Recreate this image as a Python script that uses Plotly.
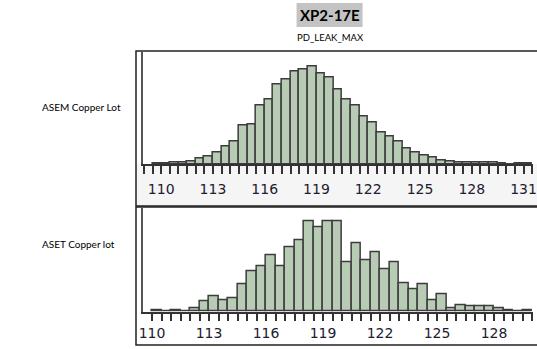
import plotly.graph_objects as go

# Histogram bins: lower edge of first bin and bin width (PD_LEAK_MAX units)
asem_bin_start = 109.5
aset_bin_start = 110.0
bin_width = 0.5

# Counts per bin
asem_counts = [2, 2, 5, 5, 8, 17, 24, 35, 54, 67, 115, 120, 175, 195, 239, 255,
               277, 284, 292, 272, 260, 225, 195, 175, 142, 125, 95, 82, 67, 47,
               35, 27, 19, 11, 7, 6, 6, 5, 4, 4, 2, 0, 1, 2]
aset_counts = [1, 0, 1, 0, 2, 6, 9, 7, 8, 16, 24, 27, 33, 27, 38, 42, 53, 50, 53, 53,
               29, 40, 30, 35, 25, 29, 17, 13, 16, 7, 10, 2, 4, 3, 3, 3, 2, 1, 0, 1]

row_labels = ["ASEM Copper Lot", "ASET Copper lot"]
title_text = "XP2-17E"
subtitle_text = "PD_LEAK_MAX"

W, H = 537, 349


def centers(start, counts):
    return [start + bin_width * (i + 0.5) for i in range(len(counts))]


def py(v):
    """pixel row -> paper y"""
    return 1 - v / H


def px(v):
    return v / W


BAR_FILL = "#b7cbb5"
BAR_EDGE = "#3c3c3c"
AXIS = "#333333"

fig = go.Figure()
fig.add_trace(go.Bar(x=centers(asem_bin_start, asem_counts), y=asem_counts,
                     width=bin_width, marker=dict(color=BAR_FILL,
                     line=dict(color=BAR_EDGE, width=1.5)),
                     xaxis="x", yaxis="y", hoverinfo="x+y"))
fig.add_trace(go.Bar(x=centers(aset_bin_start, aset_counts), y=aset_counts,
                     width=bin_width, marker=dict(color=BAR_FILL,
                     line=dict(color=BAR_EDGE, width=1.5)),
                     xaxis="x2", yaxis="y2", hoverinfo="x+y"))

tickfont = dict(family="DejaVu Sans", size=14, color="#1c2030")


def xaxis(domain_anchor, rng, standoff):
    return dict(domain=[px(141), 1], range=rng, anchor=domain_anchor,
                tick0=110, dtick=3, ticks="outside", ticklen=8, tickwidth=1.5,
                tickcolor=AXIS, showline=True, linecolor=AXIS, linewidth=1.5,
                showgrid=False, zeroline=False, tickfont=tickfont,
                ticklabelstandoff=standoff, ticklabeloverflow="allow",
                minor=dict(tick0=110, dtick=0.5, ticks="outside", ticklen=8,
                           tickwidth=1.5, tickcolor=AXIS, showgrid=False),
                fixedrange=True)


def yaxis(domain, top):
    return dict(domain=domain, range=[0, top], showticklabels=False,
                showgrid=False, zeroline=False, ticks="", showline=True,
                linecolor="#555555", linewidth=2, fixedrange=True)


shapes = [
    # grey band under the upper histogram axis
    dict(type="rect", xref="paper", yref="paper", x0=px(134), x1=1.01,
         y0=py(206), y1=py(164), fillcolor="#f5f5f5", line=dict(width=0),
         layer="below"),
    # panel frames
    dict(type="rect", xref="paper", yref="paper", x0=px(134), x1=1.02,
         y0=py(206), y1=py(51), line=dict(color="#222222", width=1.5)),
    dict(type="rect", xref="paper", yref="paper", x0=px(134), x1=1.02,
         y0=py(345), y1=py(207), line=dict(color="#222222", width=1.5)),
    # title box
    dict(type="rect", xref="paper", yref="paper", x0=px(297), x1=px(364),
         y0=py(27), y1=py(3), fillcolor="#c3c3c3", line=dict(width=0)),
]

annotations = [
    dict(text="<b>%s</b>" % title_text, x=px(330.5), y=py(15), xref="paper",
         yref="paper", showarrow=False, xanchor="center", yanchor="middle",
         font=dict(family="Lato", size=15, color="#000000")),
    dict(text=subtitle_text, x=px(331), y=py(37), xref="paper", yref="paper",
         showarrow=False, xanchor="center", yanchor="middle",
         font=dict(family="Lato", size=9.5, color="#000000")),
    dict(text=row_labels[0], x=px(37), y=py(107), xref="paper", yref="paper",
         showarrow=False, xanchor="left", yanchor="middle",
         font=dict(family="Lato", size=10, color="#000000")),
    dict(text=row_labels[1], x=px(37), y=py(244), xref="paper", yref="paper",
         showarrow=False, xanchor="left", yanchor="middle",
         font=dict(family="Lato", size=10, color="#000000")),
]

fig.update_layout(
    width=W, height=H, margin=dict(l=0, r=0, t=0, b=0),
    paper_bgcolor="white", plot_bgcolor="white", showlegend=False,
    bargap=0,
    xaxis=xaxis("y", [108.94, 131.55], 3),
    yaxis=yaxis([py(164), py(51.5)], 337.6),
    xaxis2=xaxis("y2", [109.52, 130.05], 0),
    yaxis2=yaxis([py(311.7), py(208.3)], 60.9),
    shapes=shapes, annotations=annotations,
)

fig.write_html("out.html")
